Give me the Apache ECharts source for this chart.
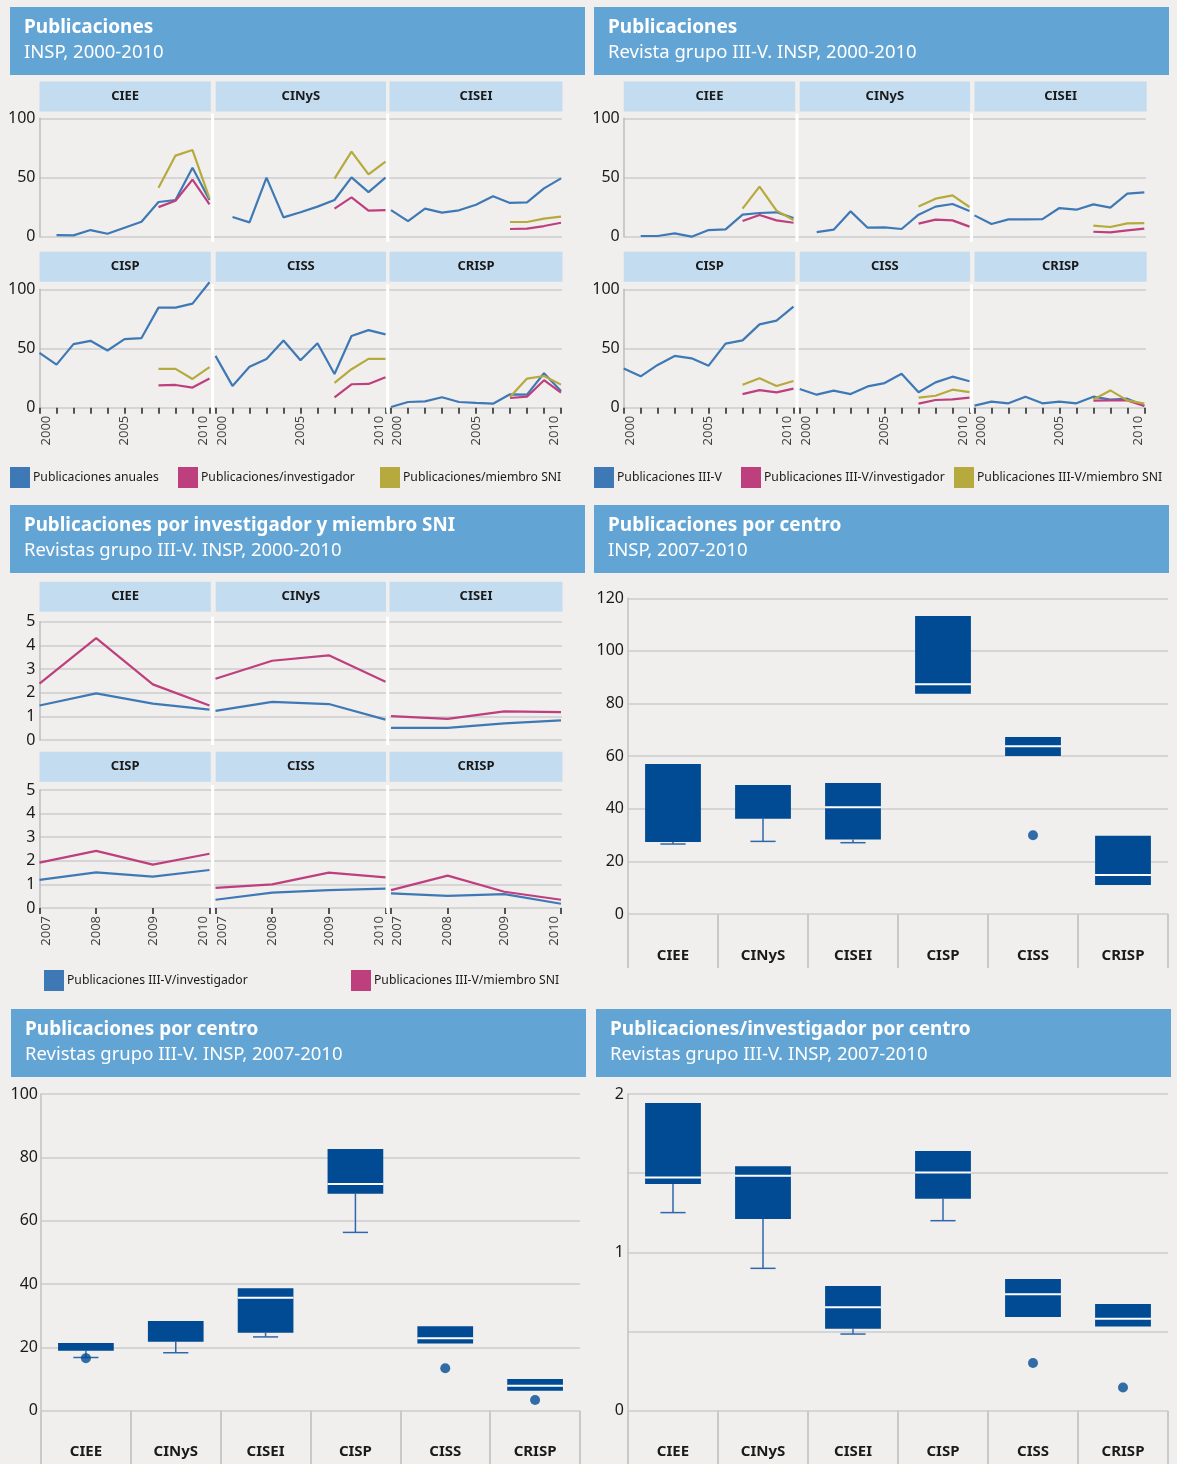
<!DOCTYPE html>
<html>
<head>
<meta charset="utf-8">
<script src="https://cdn.jsdelivr.net/npm/echarts@6/dist/echarts.min.js"></script>
<style>
  html, body { margin: 0; background: #f0efed; }
  #chart { width: 1177px; height: 1464px; }
</style>
</head>
<body>
<div id="chart"></div>
<script>
const years = [2000, 2001, 2002, 2003, 2004, 2005, 2006, 2007, 2008, 2009, 2010]
const lastYears = [2007, 2008, 2009, 2010]
const centros = ['CIEE', 'CINyS', 'CISEI', 'CISP', 'CISS', 'CRISP']

// Publicaciones, INSP 2000-2010 (one row per centro, same order as centros)
const pubAnuales = [
  [null, 1.4, 1.1, 5.6, 2.5, 7.6, 12.7, 29.3, 31, 58.3, 31],
  [null, 16.6, 12.1, 49.9, 16.3, 20.6, 25.4, 31, 50.1, 37.7, 49.9],
  [22.5, 13.2, 23.7, 20.3, 22.3, 27, 34.1, 28.5, 29, 40.8, 49.3],
  [46.3, 36.4, 53.7, 56.5, 48.3, 57.9, 58.8, 84.5, 84.5, 87.9, 106],
  [43.8, 18.4, 34.5, 41.2, 56.8, 40.1, 54.5, 28.5, 60.5, 65.5, 61.9],
  [0.6, 4.8, 5.4, 8.8, 4.8, 4, 3.4, 11.3, 11, 29.1, 14.1],
]
const pubInvestigador = [
  [25, 30.4, 48.2, 27.3], [23.7, 33.2, 22, 22.5], [6.5, 6.8, 9, 11.8],
  [18.9, 19.2, 17, 24.6], [8.8, 19.8, 20.1, 25.7], [8.2, 9.3, 23.2, 12.7],
]
const pubMiembroSni = [
  [41.4, 68.5, 73.2, 32.4], [49, 71.8, 52.7, 63.4], [12.4, 12.4, 15.2, 16.9],
  [32.8, 32.8, 24.3, 34.2], [20.9, 32.5, 41.2, 41.2], [9, 24.6, 26.8, 19.5],
]

// Publicaciones revista grupo III-V, INSP 2000-2010
const iiiAnuales = [
  [null, 0.6, 0.6, 2.8, 0, 5.6, 6.2, 18.6, 20, 20.6, 15.8],
  [null, 3.9, 5.9, 21.4, 7.6, 7.9, 6.5, 18.6, 25.4, 27.6, 21.7],
  [18, 10.7, 14.6, 14.6, 14.9, 24.2, 22.8, 27.3, 24.5, 36.3, 37.5],
  [33.2, 26.5, 36.1, 43.7, 41.7, 35.5, 54.1, 56.9, 70.4, 73.5, 85.4],
  [15.8, 11, 14.4, 11.5, 18, 20.8, 28.7, 13, 21.4, 26.2, 22.3],
  [1.7, 5.1, 3.7, 9.3, 3.7, 5.1, 3.7, 9.3, 6.8, 7.6, 1.7],
]
const iiiInvestigador = [
  [13.2, 18.3, 13.8, 11.8], [11, 14.4, 13.8, 8.5], [4.2, 3.7, 5.4, 6.8],
  [11.5, 14.9, 13, 16.1], [3.4, 6.5, 7, 8.5], [5.9, 6.2, 6.2, 1.4],
]
const iiiMiembroSni = [
  [23.7, 42.3, 22, 14.1], [25.6, 32.1, 34.9, 25.1], [9.3, 8.2, 11.3, 11.5],
  [19.4, 24.8, 18.3, 22.5], [8.5, 10.1, 15.2, 13.2], [7, 14.6, 6.2, 3.4],
]

// Publicaciones por investigador y miembro SNI, 2007-2010
const ratioInvestigador = [
  [1.46, 1.97, 1.54, 1.28], [1.23, 1.61, 1.52, 0.86], [0.51, 0.51, 0.70, 0.83],
  [1.19, 1.51, 1.33, 1.61], [0.35, 0.65, 0.76, 0.82], [0.62, 0.51, 0.59, 0.18],
]
const ratioMiembroSni = [
  [2.38, 4.31, 2.35, 1.46], [2.59, 3.35, 3.58, 2.46], [1.01, 0.89, 1.21, 1.18],
  [1.92, 2.42, 1.84, 2.30], [0.85, 1.0, 1.50, 1.30], [0.76, 1.37, 0.69, 0.35],
]

// box plots 2007-2010: [min, q1, median, q3, max] per centro, outliers as [centro, value]
const boxPubCentro = [
  [26.6, 27.4, 27.4, 57.0, 57.0], [27.6, 36.2, 49.0, 49.0, 49.0], [27.1, 28.3, 40.6, 49.8, 49.8],
  [83.7, 83.7, 87.3, 113.3, 113.3], [60.1, 60.1, 63.8, 67.3, 67.3], [11.0, 11.0, 14.8, 29.7, 29.7],
]
const outPubCentro = [[4, 29.9]]
const boxIIICentro = [
  [16.8, 18.9, 18.9, 21.4, 21.4], [18.3, 21.8, 28.3, 28.3, 28.3], [23.3, 24.6, 35.7, 38.7, 38.7],
  [56.3, 68.5, 71.6, 82.6, 82.6], [21.2, 21.2, 22.9, 26.7, 26.7], [6.3, 6.3, 7.9, 10.0, 10.0],
]
const outIIICentro = [[0, 16.6], [4, 13.4], [5, 3.4]]
const boxInvCentro = [
  [1.251, 1.432, 1.472, 1.943, 1.943], [0.899, 1.211, 1.484, 1.543, 1.543], [0.484, 0.518, 0.653, 0.787, 0.787],
  [1.2, 1.339, 1.505, 1.64, 1.64], [0.592, 0.592, 0.735, 0.832, 0.832], [0.531, 0.531, 0.581, 0.674, 0.674],
]
const outInvCentro = [[4, 0.301], [5, 0.147]]

const FONT = 'Noto Sans'
const C_BLUE = '#3f79b5', C_PINK = '#be3f7e', C_OLIVE = '#b6aa3e'
const C_BOX = '#004b93', C_WHISKER = '#2f67aa'
const C_HEAD = '#62a5d5', C_STRIP = '#c4dcf0'
const GRID_GRAY = '#cccccc', TXT = '#1a1a1a'

const grids = [], xAxes = [], yAxes = [], series = [], graphics = [], titles = [], legends = []

function rect(x, y, w, h, fill, z) {
  graphics.push({ type: 'rect', z: z || 1, silent: true, shape: { x, y, width: w, height: h }, style: { fill } })
}
function label(x, y, text) {
  graphics.push({ type: 'text', z: 2, silent: true, x, y,
    style: { text, fill: TXT, font: `bold 13px "${FONT}"`, align: 'center', verticalAlign: 'middle' } })
}
function header(x, y, w, text, sub, size) {
  rect(x, y, w, 68, C_HEAD)
  titles.push({ text, subtext: sub, left: x + 14, top: y + 9.5, padding: 0, itemGap: 2,
    textStyle: { color: '#fff', fontFamily: FONT, fontSize: size || 19, fontWeight: 'bold', lineHeight: 23 },
    subtextStyle: { color: '#fff', fontFamily: FONT, fontSize: 18.5, lineHeight: 23 } })
}
function legendItem(name, color, left, top) {
  legends.push({ left, top, padding: 0, icon: 'rect', itemWidth: 20, itemHeight: 21, selectedMode: false,
    itemStyle: { borderWidth: 0 },
    data: [{ name, itemStyle: { color, borderWidth: 0 } }],
    textStyle: { fontFamily: FONT, fontSize: 12.2, color: TXT, padding: [0, 0, 0, -2] } })
}

// one row of three facets sharing a backdrop grid for the gridlines and the y labels
function facetRow(o) {
  const bd = grids.length
  grids.push({ left: o.lefts[0], top: o.top, width: o.backRight - o.lefts[0], height: o.height, outerBoundsMode: 'none' })
  xAxes.push({ gridIndex: bd, type: 'value', show: false, min: 0, max: 1 })
  yAxes.push({ gridIndex: bd, type: 'value', min: 0, max: o.yMax, interval: o.yInterval,
    axisLine: { show: true, lineStyle: { color: '#bdbdbd', width: 1.5 } }, axisTick: { show: false },
    splitLine: { lineStyle: { color: GRID_GRAY, width: 1.5 } },
    axisLabel: { fontFamily: FONT, fontSize: 16, color: TXT, margin: 4 } })

  o.rows.forEach((ci, j) => {
    const g = grids.length
    grids.push({ left: o.lefts[j], top: o.top, width: o.width, height: o.height, outerBoundsMode: 'none' })
    xAxes.push({ gridIndex: g, type: 'value', min: o.x[0], max: o.x[o.x.length - 1], interval: 1,
      show: o.bottom, axisLine: { show: false }, splitLine: { show: false },
      axisTick: { show: true, length: 6, lineStyle: { color: '#222', width: 1.5 } },
      axisLabel: { rotate: 90, margin: 8, fontFamily: FONT, fontSize: 13, color: '#444',
        verticalAlign: 'middle', verticalAlignMinLabel: 'top', verticalAlignMaxLabel: 'bottom',
        formatter: (v) => (o.tickLabels.includes(v) ? String(v) : '') } })
    yAxes.push({ gridIndex: g, type: 'value', min: 0, max: o.yMax, show: false })
    o.lines.forEach((l) => {
      series.push({ type: 'line', name: l.name, xAxisIndex: xAxes.length - 1, yAxisIndex: yAxes.length - 1,
        data: l.x.map((x, k) => [x, l.rows[ci][k]]), showSymbol: false, symbol: 'none', clip: false,
        silent: true, color: l.color, lineStyle: { color: l.color, width: 2.2 } })
    })
    rect(o.strips[j][0], o.stripTop, o.strips[j][1], 30, C_STRIP)
    label(o.strips[j][0] + o.strips[j][1] / 2, o.stripTop + 15, centros[ci])
  })
  o.seps.forEach((sx) => rect(sx - 1.5, o.top - 5, 3, o.height + 10, '#ffffff', 10))
}

function boxPanel(o) {
  const g = grids.length
  grids.push({ left: o.left, top: o.top, width: o.width, height: o.height, outerBoundsMode: 'none' })
  xAxes.push({ gridIndex: g, type: 'category', data: centros, axisLine: { show: false },
    axisTick: { show: true, interval: 0, length: o.tickLen, lineStyle: { color: '#c9c9c9', width: 2 } },
    axisLabel: { interval: 0, margin: 34, fontFamily: FONT, fontSize: 15, fontWeight: 'bold', color: TXT } })
  yAxes.push({ gridIndex: g, type: 'value', min: 0, max: o.yMax, interval: o.yInterval,
    axisLine: { show: true, lineStyle: { color: '#c2c2c2', width: 1.5 } }, axisTick: { show: false },
    splitLine: { lineStyle: { color: GRID_GRAY, width: 1.5 } },
    axisLabel: { fontFamily: FONT, fontSize: 16, color: TXT, margin: o.labelMargin,
      formatter: o.yFormat || ((v) => String(v)) } })
  const xi = xAxes.length - 1, yi = yAxes.length - 1
  series.push({
    type: 'custom', xAxisIndex: xi, yAxisIndex: yi, silent: true,
    data: o.boxes.map((b, i) => [i, ...b]),
    encode: { x: 0, y: [1, 2, 3, 4, 5] },
    renderItem(params, api) {
      const i = api.value(0)
      const band = api.size([1, 0])[0]
      const bw = band * 0.62, cw = band * 0.28
      const pMin = api.coord([i, api.value(1)]), pQ1 = api.coord([i, api.value(2)])
      const pMed = api.coord([i, api.value(3)]), pQ3 = api.coord([i, api.value(4)])
      const pMax = api.coord([i, api.value(5)])
      const cx = pQ1[0]
      const wStyle = { stroke: C_WHISKER, lineWidth: 1.5 }
      const children = []
      if (pMin[1] - pQ1[1] > 0.5) {
        children.push({ type: 'line', shape: { x1: cx, y1: pQ1[1], x2: cx, y2: pMin[1] }, style: wStyle })
        children.push({ type: 'line', shape: { x1: cx - cw / 2, y1: pMin[1], x2: cx + cw / 2, y2: pMin[1] }, style: wStyle })
      }
      if (pQ3[1] - pMax[1] > 0.5) {
        children.push({ type: 'line', shape: { x1: cx, y1: pQ3[1], x2: cx, y2: pMax[1] }, style: wStyle })
        children.push({ type: 'line', shape: { x1: cx - cw / 2, y1: pMax[1], x2: cx + cw / 2, y2: pMax[1] }, style: wStyle })
      }
      children.push({ type: 'rect', shape: { x: cx - bw / 2, y: pQ3[1], width: bw, height: pQ1[1] - pQ3[1] }, style: { fill: C_BOX } })
      if (pMed[1] < pQ1[1] - 1 && pMed[1] > pQ3[1] + 1) {
        children.push({ type: 'line', shape: { x1: cx - bw / 2, y1: pMed[1], x2: cx + bw / 2, y2: pMed[1] },
          style: { stroke: '#ffffff', lineWidth: 2 } })
      }
      return { type: 'group', children }
    },
  })
  series.push({ type: 'scatter', xAxisIndex: xi, yAxisIndex: yi, silent: true, data: o.outliers,
    symbolSize: 10, itemStyle: { color: C_BOX } })
}

// ---- panel 1: Publicaciones, INSP 2000-2010
header(10, 7, 575, 'Publicaciones', 'INSP, 2000-2010')
const p1Lines = [
  { name: 'Publicaciones anuales', color: C_BLUE, x: years, rows: pubAnuales },
  { name: 'Publicaciones/investigador', color: C_PINK, x: lastYears, rows: pubInvestigador },
  { name: 'Publicaciones/miembro SNI', color: C_OLIVE, x: lastYears, rows: pubMiembroSni },
]
const leftA = [39.5, 215.5, 391], stripsA = [[39.5, 171.3], [215.7, 170.3], [389.5, 173]], sepsA = [212.6, 387.7]
facetRow({ rows: [0, 1, 2], lefts: leftA, width: 170, backRight: 562, top: 118.3, height: 118.4, yMax: 100, yInterval: 50,
  x: years, bottom: false, tickLabels: [], lines: p1Lines, strips: stripsA, stripTop: 81.5, seps: sepsA })
facetRow({ rows: [3, 4, 5], lefts: leftA, width: 170, backRight: 562, top: 289.3, height: 118.4, yMax: 100, yInterval: 50,
  x: years, bottom: true, tickLabels: [2000, 2005, 2010], lines: p1Lines, strips: stripsA, stripTop: 251.7, seps: sepsA })
legendItem('Publicaciones anuales', C_BLUE, 10, 467)
legendItem('Publicaciones/investigador', C_PINK, 178, 467)
legendItem('Publicaciones/miembro SNI', C_OLIVE, 380, 467)

// ---- panel 2: Revista grupo III-V
header(594, 7, 575, 'Publicaciones', 'Revista grupo III-V. INSP, 2000-2010')
const p2Lines = [
  { name: 'Publicaciones III-V', color: C_BLUE, x: years, rows: iiiAnuales },
  { name: 'Publicaciones III-V/investigador', color: C_PINK, x: lastYears, rows: iiiInvestigador },
  { name: 'Publicaciones III-V/miembro SNI', color: C_OLIVE, x: lastYears, rows: iiiMiembroSni },
]
const leftB = [623.7, 799.7, 974.5], stripsB = [[623.7, 171.5], [799.7, 170.3], [974.5, 172.2]], sepsB = [797, 971.5]
facetRow({ rows: [0, 1, 2], lefts: leftB, width: 169.8, backRight: 1146, top: 118.3, height: 118.4, yMax: 100, yInterval: 50,
  x: years, bottom: false, tickLabels: [], lines: p2Lines, strips: stripsB, stripTop: 81.5, seps: sepsB })
facetRow({ rows: [3, 4, 5], lefts: leftB, width: 169.8, backRight: 1146, top: 289.3, height: 118.4, yMax: 100, yInterval: 50,
  x: years, bottom: true, tickLabels: [2000, 2005, 2010], lines: p2Lines, strips: stripsB, stripTop: 251.7, seps: sepsB })
legendItem('Publicaciones III-V', C_BLUE, 594, 467)
legendItem('Publicaciones III-V/investigador', C_PINK, 741, 467)
legendItem('Publicaciones III-V/miembro SNI', C_OLIVE, 954, 467)

// ---- panel 3: por investigador y miembro SNI
header(10, 505, 575, 'Publicaciones por investigador y miembro SNI', 'Revistas grupo III-V. INSP, 2000-2010', 18.8)
const p3Lines = [
  { name: 'Publicaciones III-V/investigador ', color: C_BLUE, x: lastYears, rows: ratioInvestigador },
  { name: 'Publicaciones III-V/miembro SNI ', color: C_PINK, x: lastYears, rows: ratioMiembroSni },
]
facetRow({ rows: [0, 1, 2], lefts: leftA, width: 170, backRight: 562, top: 621.7, height: 118.3, yMax: 5, yInterval: 1,
  x: lastYears, bottom: false, tickLabels: [], lines: p3Lines, strips: stripsA, stripTop: 581.7, seps: sepsA })
facetRow({ rows: [3, 4, 5], lefts: leftA, width: 170, backRight: 562, top: 790, height: 118, yMax: 5, yInterval: 1,
  x: lastYears, bottom: true, tickLabels: lastYears, lines: p3Lines, strips: stripsA, stripTop: 751.7, seps: sepsA })
legendItem('Publicaciones III-V/investigador ', C_BLUE, 44, 970)
legendItem('Publicaciones III-V/miembro SNI ', C_PINK, 351, 970)

// ---- panel 4: Publicaciones por centro, INSP 2007-2010
header(594, 505, 575, 'Publicaciones por centro', 'INSP, 2007-2010')
boxPanel({ left: 628, top: 598.3, width: 540, height: 315.7, yMax: 120, yInterval: 20, labelMargin: 4, tickLen: 54,
  boxes: boxPubCentro, outliers: outPubCentro })

// ---- panel 5: Publicaciones por centro, III-V
header(11, 1009, 575, 'Publicaciones por centro', 'Revistas grupo III-V. INSP, 2007-2010')
boxPanel({ left: 41, top: 1094, width: 539, height: 316.7, yMax: 100, yInterval: 20, labelMargin: 3, tickLen: 60,
  boxes: boxIIICentro, outliers: outIIICentro })

// ---- panel 6: Publicaciones/investigador por centro
header(596, 1009, 575, 'Publicaciones/investigador por centro', 'Revistas grupo III-V. INSP, 2007-2010')
boxPanel({ left: 628, top: 1094, width: 540, height: 316.7, yMax: 2, yInterval: 0.5, labelMargin: 4, tickLen: 60,
  yFormat: (v) => (Number.isInteger(v) ? String(v) : ''), boxes: boxInvCentro, outliers: outInvCentro })

const chart = echarts.init(document.getElementById('chart'), null, { renderer: 'canvas' })
chart.setOption({
  backgroundColor: '#f0efed',
  animation: false,
  title: titles,
  legend: legends,
  grid: grids,
  xAxis: xAxes,
  yAxis: yAxes,
  series,
  graphic: { elements: graphics },
})
</script>
</body>
</html>
